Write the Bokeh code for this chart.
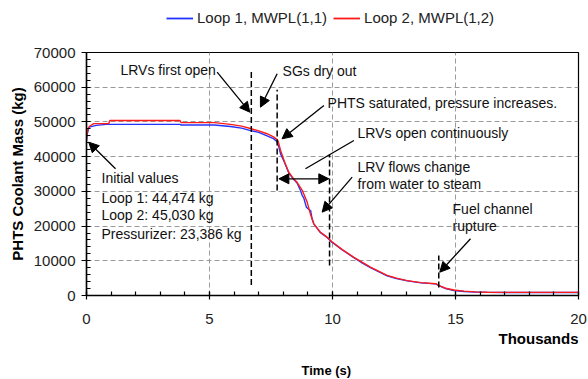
from bokeh.plotting import figure
from bokeh.layouts import column
from bokeh.models import (Legend, LegendItem, LabelSet, Arrow, NormalHead,
                          FixedTicker, Range1d, ColumnDataSource)
from bokeh.core.properties import value
from bokeh.embed import file_html
from bokeh.resources import INLINE

# ---- data (time in thousands of seconds, mass in kg) ----
loop2_t = [0, 0.03, 0.08, 0.15, 0.3, 0.9, 0.95, 3.8, 3.85, 5.2, 5.85, 6.3, 6.67, 7.0, 7.34,
           7.6, 7.75, 7.79, 7.89, 8.05, 8.22, 8.4, 8.56, 8.77, 8.97, 9.1, 9.24, 9.5, 9.78,
           9.99, 10.4, 10.87, 11.2, 11.54, 12.22, 12.6, 13.04, 13.6, 14.19, 14.39, 14.6,
           14.93, 15.34, 15.8, 16.29, 17, 18, 19, 20]
loop2_m = [45030, 47000, 48300, 48900, 49500, 49500, 50400, 50400, 49800, 49800, 49300,
           48800, 48100, 47400, 46600, 45700, 44900, 44450, 41800, 38500, 35500, 33800,
           32600, 30300, 26900, 23500, 20650, 18300, 16800, 15400, 13200, 11000, 9600,
           8200, 5800, 5000, 4300, 3700, 3400, 2700, 2100, 1600, 1250, 1050, 950, 900,
           900, 900, 900]
loop1_t = [0, 0.03, 0.1, 0.4, 0.8, 3.8, 3.85, 5.2, 5.85, 6.3, 6.67, 7.0, 7.34, 7.6, 7.75,
           7.82, 7.89, 8.05, 8.22, 8.4, 8.56, 8.7, 8.77, 8.83, 8.94, 9.04, 9.11, 9.17,
           9.24, 9.5, 9.78, 9.99, 10.4, 10.87, 11.2, 11.54, 12.22, 12.6, 13.04, 13.6,
           14.19, 14.39, 14.6, 14.93, 15.34, 15.8, 16.29, 17, 18, 19, 20]
loop1_m = [44474, 46500, 48500, 49000, 49300, 49300, 49100, 49100, 48700, 48200, 47500,
           47000, 46000, 45200, 44300, 42700, 40800, 38300, 35400, 33600, 32400, 30250,
           28800, 28130, 25440, 24770, 24490, 22090, 20650, 18200, 16700, 15300, 13100,
           10900, 9400, 8000, 5650, 4850, 4200, 3650, 3350, 2600, 2000, 1450, 1150, 1000,
           900, 880, 880, 880, 880]

series_names = ["Loop 1, MWPL(1,1)", "Loop 2, MWPL(1,2)"]

x_ticks = [0, 5, 10, 15, 20]
x_minor = list(range(0, 21))
y_ticks = [0, 10000, 20000, 30000, 40000, 50000, 60000, 70000]
y_minor = list(range(0, 70001, 2000))

# event markers (vertical dashed lines)
event_t = [6.70, 7.75, 9.88, 14.32]
event_lo = [3000, 30250, 8640, 2300]
event_hi = [65100, 59300, 40600, 11500]

# annotation texts
note_text = ["LRVs first open", "SGs dry out", "PHTS saturated, pressure increases.",
             "LRVs open continuously", "LRV flows change", "from water to steam",
             "Fuel channel", "rupture", "Initial values", "Loop 1: 44,474 kg",
             "Loop 2: 45,030 kg", "Pressurizer: 23,386 kg"]
note_t = [1.38, 7.97, 9.80, 11.02, 11.02, 11.02, 14.88, 14.88, 0.61, 0.61, 0.61, 0.61]
note_m = [65100, 64530, 55310, 46950, 37160, 32260, 25060, 19880, 33990, 28230, 23050, 17860]

# pointer arrows
arrow_t0 = [5.31, 7.75, 9.65, 10.8, 15.61, 1.18]
arrow_m0 = [64330, 63860, 54730, 34080, 16330, 36500]
arrow_t1 = [6.64, 7.07, 7.95, 9.58, 14.36, 0.09]
arrow_m1 = [52800, 54240, 45140, 24000, 6710, 44160]

# plain pointer line and double arrow
line_t = [10.87, 8.9]
line_m = [44650, 36500]
span_t = [7.82, 9.85]
span_m = 33620

# x-axis titles
x_unit = "Thousands"
x_title = "Time (s)"

FONT = "Liberation Sans"
BLUE = "#2233ff"
RED = "#ff1a1a"

# ---------------- legend strip (separate small figure) ----------------
lg = figure(width=588, height=36, output_backend="svg", toolbar_location=None,
            x_range=Range1d(-100, -99), y_range=Range1d(0, 1),
            x_axis_type=None, y_axis_type=None,
            min_border_left=0, min_border_right=0, min_border_top=0, min_border_bottom=0)
lg.outline_line_color = None
lg.xgrid.visible = False
lg.ygrid.visible = False
lr1 = lg.line(loop1_t, loop1_m, line_color=BLUE, line_width=1.8)
lr2 = lg.line(loop2_t, loop2_m, line_color=RED, line_width=1.8)
legend = Legend(items=[LegendItem(label=series_names[0], renderers=[lr1]),
                       LegendItem(label=series_names[1], renderers=[lr2])],
                orientation="horizontal", location=(80, 10),
                label_text_font=FONT, label_text_font_size="15px",
                label_text_color="#222222",
                glyph_width=27, glyph_height=16, label_standoff=4, spacing=6,
                padding=0, margin=0, border_line_color=None,
                background_fill_alpha=0)
lg.add_layout(legend)

# ---------------- main chart ----------------
p = figure(width=588, height=295, output_backend="svg", toolbar_location=None,
           x_range=Range1d(0, 20), y_range=Range1d(0, 70000),
           min_border_left=86, min_border_right=10, min_border_top=16,
           min_border_bottom=36)
p.background_fill_color = "white"
p.border_fill_color = "white"
p.outline_line_color = "black"
p.outline_line_width = 1.2

# grid
p.xgrid.ticker = FixedTicker(ticks=[5, 10, 15])
p.ygrid.ticker = FixedTicker(ticks=[10000, 20000, 30000, 40000, 50000, 60000])
for g in (p.xgrid, p.ygrid):
    g.grid_line_color = "#9a9a9a"
    g.grid_line_dash = "5 3"
    g.grid_line_width = 1

# axes
p.xaxis.ticker = FixedTicker(ticks=x_ticks, minor_ticks=x_minor)
p.yaxis.ticker = FixedTicker(ticks=y_ticks, minor_ticks=y_minor)
for ax in (p.xaxis, p.yaxis):
    ax.axis_line_color = "black"
    ax.axis_line_width = 1.5
    ax.major_tick_line_color = "black"
    ax.minor_tick_line_color = "black"
    ax.major_tick_line_width = 1.2
    ax.minor_tick_line_width = 1.2
    ax.major_label_text_font = FONT
    ax.major_label_text_font_size = "15px"
    ax.major_label_text_color = "#222222"
    ax.axis_label_text_font = FONT
    ax.axis_label_text_font_style = "bold"
    ax.axis_label_text_color = "black"
p.xaxis.major_tick_in = 4
p.xaxis.major_tick_out = 4
p.xaxis.minor_tick_in = 4
p.xaxis.minor_tick_out = 0
p.yaxis.major_tick_in = 0
p.yaxis.major_tick_out = 5
p.yaxis.minor_tick_in = 4
p.yaxis.minor_tick_out = 0
p.xaxis.major_label_standoff = 14
p.yaxis.major_label_standoff = 6
p.yaxis.axis_label = "PHTS Coolant Mass (kg)"
p.yaxis.axis_label_text_font_size = "15px"
p.yaxis.axis_label_standoff = 5

# series
r1 = p.line(loop1_t, loop1_m, line_color=BLUE, line_width=1.4)
r2 = p.line(loop2_t, loop2_m, line_color=RED, line_width=1.4)

# event lines
p.segment(x0=event_t, y0=event_lo, x1=event_t, y1=event_hi,
          line_color="black", line_width=1.5, line_dash="6 3")

# pointer arrows
asrc = ColumnDataSource(dict(x0=arrow_t0, y0=arrow_m0, x1=arrow_t1, y1=arrow_m1))
p.add_layout(Arrow(source=asrc, x_start="x0", y_start="y0", x_end="x1", y_end="y1",
                   line_color="black", line_width=1.3,
                   end=NormalHead(size=10, fill_color="black", line_color="black",
                                  line_width=1)))
p.line(line_t, line_m, line_color="black", line_width=1.3)
p.add_layout(Arrow(x_start=span_t[0], y_start=span_m, x_end=span_t[1], y_end=span_m,
                   line_color="black", line_width=1.3,
                   start=NormalHead(size=10, fill_color="black", line_color="black", line_width=1),
                   end=NormalHead(size=10, fill_color="black", line_color="black", line_width=1)))

# annotation texts
nsrc = ColumnDataSource(dict(x=note_t, y=note_m, text=note_text))
p.add_layout(LabelSet(source=nsrc, x="x", y="y", text="text",
                      text_font=value(FONT), text_font_size="14px",
                      text_color="#111111", text_align="left",
                      text_baseline="middle"))

# ---------------- x-axis title strip (same x scale as the chart) ----------------
xs = figure(width=588, height=48, output_backend="svg", toolbar_location=None,
            x_range=p.x_range, y_range=Range1d(0, 48),
            x_axis_type=None, y_axis_type=None,
            min_border_left=86, min_border_right=10, min_border_top=0, min_border_bottom=0)
xs.outline_line_color = None
xs.xgrid.visible = False
xs.ygrid.visible = False
xs.text(x=[20], y=[41], text=[x_unit], text_font=value(FONT), text_font_size="15px",
        text_font_style="bold", text_color="black", text_align="right",
        text_baseline="middle")
xs.text(x=[9.75], y=[9], text=[x_title], text_font=value(FONT), text_font_size="13px",
        text_font_style="bold", text_color="black", text_align="center",
        text_baseline="middle")

layout = column(lg, p, xs, spacing=0)
open("out.html", "w").write(file_html(layout, INLINE))
